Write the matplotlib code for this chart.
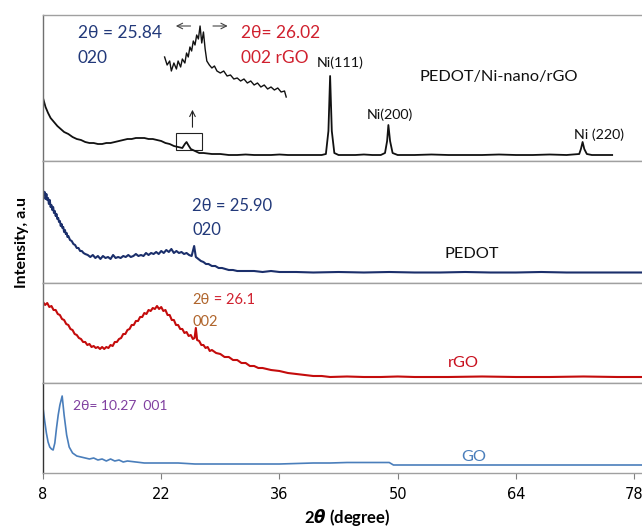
import numpy as np
import matplotlib
matplotlib.use("Agg")
import matplotlib.pyplot as plt
from matplotlib.patches import Rectangle

plt.rcParams['font.family'] = ['Lato', 'DejaVu Sans']
plt.rcParams['mathtext.fontset'] = 'custom'
plt.rcParams['mathtext.it'] = 'DejaVu Sans:bold:italic'
plt.rcParams['mathtext.rm'] = 'DejaVu Sans:bold'

# ---- data (2theta in degree, intensity in arbitrary units per panel) ----
comp_tt = [8.0, 8.3, 8.6, 8.9, 9.3, 9.7, 10.1, 10.5, 11.0, 11.5, 12.0, 12.5, 13.0, 13.5,
           14.0, 14.5, 15.0, 15.5, 16.0, 16.5, 17.0, 17.5, 18.0, 18.5, 19.0, 19.5, 20.0,
           20.5, 21.0, 21.5, 22.0, 22.5, 23.0, 23.5, 24.0, 24.5, 24.8, 25.0, 25.2, 25.5,
           26.0, 26.5, 27.0, 28.0, 29.0, 30.0, 31.0, 32.0, 33.0, 34.0, 35.0, 36.0, 37.0,
           38.0, 39.0, 40.0, 41.0, 41.5, 41.8, 42.0, 42.2, 42.5, 43.0, 44.0, 45.0, 46.0,
           47.0, 48.0, 48.5, 48.75, 48.9, 49.1, 49.4, 50.0, 52.0, 54.0, 56.0, 58.0, 60.0,
           62.0, 64.0, 66.0, 68.0, 70.0, 71.5, 71.7, 71.9, 72.1, 72.4, 73.0, 74.0, 75.0, 75.4]
comp_int = [63, 54, 48, 43, 39, 35, 32, 29, 27, 24, 22, 21, 19, 18,
            18, 17, 17, 18, 18, 19, 20, 21, 22, 22, 23, 23, 23,
            22, 22, 21, 20, 18, 17, 15, 14, 13, 17, 19, 16, 12,
            10, 8, 8, 7, 7, 6, 6, 6.5, 6, 6, 6, 6.5, 6,
            6, 6, 6, 6, 7, 30, 85, 30, 8, 6, 6, 6, 6.5,
            6, 6, 8, 20, 36, 20, 8, 6, 6, 6.5, 6, 6, 6,
            6.5, 6, 6, 6.5, 6, 7, 12, 19, 12, 7, 6, 6, 6, 6]

inset_tt = [22.4, 22.7, 23.0, 23.2, 23.5, 23.8, 24.0, 24.3, 24.5, 24.8, 25.0, 25.2, 25.4,
            25.6, 25.8, 26.0, 26.2, 26.4, 26.6, 26.8, 27.0, 27.2, 27.4, 27.7, 28.0, 28.3,
            28.6, 29.0, 29.4, 29.8, 30.2, 30.6, 31.0, 31.4, 31.8, 32.2, 32.6, 33.0, 33.4,
            33.8, 34.2, 34.6, 35.0, 35.4, 35.8, 36.2, 36.6, 36.8]
inset_int = [104, 96, 100, 90, 98, 92, 100, 94, 102, 98, 108, 104, 114,
             110, 120, 116, 126, 122, 135, 118, 129, 112, 100, 96, 93, 95,
             90, 88, 90, 85, 86, 82, 83, 80, 82, 78, 80, 76, 78,
             74, 76, 72, 74, 71, 73, 69, 70, 64]

pedot_tt = [8.0, 8.1, 8.2, 8.3, 8.4, 8.5, 8.6, 8.7, 8.8, 8.9, 9.0, 9.1, 9.2, 9.3, 9.4,
            9.5, 9.6, 9.7, 9.8, 9.9, 10.0, 10.1, 10.2, 10.3, 10.4, 10.5, 10.6, 10.7, 10.8,
            10.9, 11.0, 11.2, 11.4, 11.6, 11.8, 12.0, 12.2, 12.4, 12.6, 12.8, 13.0, 13.3,
            13.6, 13.9, 14.2, 14.5, 14.8, 15.1, 15.4, 15.7, 16.0, 16.3, 16.6, 16.9, 17.2,
            17.5, 17.8, 18.1, 18.4, 18.7, 19.0, 19.3, 19.6, 19.9, 20.2, 20.5, 20.8, 21.1,
            21.4, 21.7, 22.0, 22.3, 22.6, 22.9, 23.2, 23.5, 23.8, 24.1, 24.4, 24.7, 25.0,
            25.3, 25.6, 25.9, 26.1, 26.4, 26.7, 27.0, 27.3, 27.6, 28.0, 28.4, 28.8, 29.2,
            29.6, 30.0, 30.5, 31.0, 32.0, 33.0, 34.0, 35.0, 36.0, 38.0, 40.0, 43.0, 46.0,
            49.0, 52.0, 55.0, 58.0, 61.0, 64.0, 67.0, 70.0, 73.0, 76.0, 80.0]
pedot_int = [93, 88, 91, 84, 89, 83, 85, 79, 83, 76, 78, 73, 76, 70, 72,
             67, 69, 64, 65, 61, 62, 57, 59, 55, 56, 51, 53, 49, 50,
             46, 47, 43, 42, 39, 38, 35, 35, 32, 32, 30, 29, 28,
             26, 28, 25, 27, 24, 27, 25, 26, 24, 28, 25, 26, 25,
             27, 26, 28, 26, 27, 29, 27, 28, 27, 30, 28, 30, 29,
             31, 29, 32, 30, 33, 31, 34, 30, 32, 30, 31, 29, 30,
             28, 27, 37, 26, 24, 22, 21, 19, 19, 17, 17, 15, 15,
             14, 13, 13, 12, 12, 12, 11, 12, 11, 11, 10.5, 11, 10.5,
             11, 10.5, 10.5, 11, 10.5, 10.5, 11, 10.5, 10.5, 10.5, 10.5]

rgo_tt = [8.0, 8.25, 8.5, 8.75, 9.0, 9.25, 9.5, 9.75, 10.0, 10.25, 10.5, 10.75, 11.0,
          11.25, 11.5, 11.75, 12.0, 12.25, 12.5, 12.75, 13.0, 13.25, 13.5, 13.75, 14.0,
          14.25, 14.5, 14.75, 15.0, 15.25, 15.5, 15.75, 16.0, 16.25, 16.5, 16.75, 17.0,
          17.25, 17.5, 17.75, 18.0, 18.25, 18.5, 18.75, 19.0, 19.25, 19.5, 19.75, 20.0,
          20.25, 20.5, 20.75, 21.0, 21.25, 21.5, 21.75, 22.0, 22.25, 22.5, 22.75, 23.0,
          23.25, 23.5, 23.75, 24.0, 24.25, 24.5, 24.75, 25.0, 25.25, 25.5, 25.75, 25.95,
          26.1, 26.25, 26.5, 26.75, 27.0, 27.25, 27.5, 27.75, 28.0, 28.5, 29.0, 29.5, 30.0,
          30.5, 31.0, 31.5, 32.0, 32.5, 33.0, 33.5, 34.0, 35.0, 36.0, 37.0, 38.0, 39.0,
          40.0, 41.0, 42.0, 44.0, 46.0, 48.0, 50.0, 52.0, 56.0, 60.0, 64.0, 68.0, 72.0,
          76.0, 80.0]
rgo_int = [81, 78, 80, 76, 77, 73, 73, 69, 68, 64, 63, 59, 58,
           54, 53, 49, 48, 45, 44, 41, 41, 38, 39, 36, 37,
           35, 36, 34, 36, 34, 36, 35, 38, 37, 41, 41, 44,
           45, 49, 49, 53, 54, 58, 58, 62, 62, 66, 66, 70,
           69, 73, 72, 75, 74, 77, 74, 76, 72, 73, 68, 68,
           63, 63, 58, 58, 54, 54, 50, 51, 47, 48, 44, 45,
           55, 43, 42, 38, 38, 35, 36, 32, 33, 30, 29, 26, 26,
           23, 23, 20, 20, 17, 17, 15, 15, 13, 12, 10, 9, 8,
           7, 7, 6, 6.5, 6, 6, 6.5, 6, 6, 6.5, 6, 6, 6.5,
           6, 6]

go_tt = [8.0, 8.2, 8.4, 8.6, 8.8, 9.0, 9.2, 9.4, 9.6, 9.8, 10.0, 10.27, 10.5, 10.8, 11.1,
         11.5, 12.0, 12.5, 13.0, 13.5, 14.0, 14.5, 15.0, 15.5, 16.0, 16.5, 17.0, 17.5,
         18.0, 19.0, 20.0, 21.0, 22.0, 24.0, 26.0, 28.0, 30.0, 32.0, 34.0, 36.0, 38.0,
         40.0, 42.0, 44.0, 46.0, 48.0, 49.0, 49.5, 52.0, 56.0, 60.0, 64.0, 68.0, 72.0,
         76.0, 80.0]
go_int = [65, 52, 40, 31, 26, 24, 23, 30, 45, 58, 68, 77, 58, 38, 26,
          20, 17, 16, 15, 14, 15, 13, 14, 12, 14, 12, 13, 11,
          12, 11, 10, 10, 10, 10, 9, 9, 9, 9, 9, 9, 9.5,
          10, 10, 10.5, 10.5, 10.5, 10.5, 8, 8, 8, 8, 8, 8, 8,
          8, 8]

x_ticks = [8, 22, 36, 50, 64, 78]

navy = '#22397a'
red_txt = '#d0202e'
brown = '#b0652c'

fig = plt.figure(figsize=(6.42, 5.27), dpi=100)

left, width = 43 / 642, 608 / 642
# panel extents in pixels (top, bottom)
panels = [(15, 161), (161, 283), (283, 383), (383, 473)]
axes = []
for top, bot in panels:
    ax = fig.add_axes([left, (527 - bot) / 527, width, (bot - top) / 527])
    ax.set_xlim(8, 80)
    ax.set_ylim(0, bot - top)
    ax.set_yticks([])
    ax.set_xticks([])
    for s in ['top', 'bottom', 'left']:
        ax.spines[s].set_color('#a0a0a0')
        ax.spines[s].set_linewidth(1.0)
    ax.spines['right'].set_visible(False)
    ax.spines['left'].set_color('#707070')
    axes.append(ax)

ax1, ax2, ax3, ax4 = axes

# top panel: composite
ax1.plot(comp_tt, comp_int, color='#111111', lw=1.3)
ax1.plot(inset_tt, inset_int, color='#111111', lw=1.0)
ax1.add_patch(Rectangle((23.7, 11), 3.1, 17, fill=False, ec='#222222', lw=0.8))
ax1.annotate('', xy=(25.7, 54), xytext=(25.7, 31),
             arrowprops=dict(arrowstyle='->', color='#222222', lw=0.8))
ax1.annotate('', xy=(23.4, 135), xytext=(25.8, 135),
             arrowprops=dict(arrowstyle='->', color='#444444', lw=0.8))
ax1.annotate('', xy=(30.2, 135), xytext=(27.8, 135),
             arrowprops=dict(arrowstyle='->', color='#444444', lw=0.8))
ax1.text(12.1, 128, '2θ = 25.84', color=navy, fontsize=12.5, va='center')
ax1.text(12.1, 103, '020', color=navy, fontsize=12.5, va='center')
ax1.text(31.4, 128, '2θ= 26.02', color=red_txt, fontsize=12.5, va='center')
ax1.text(31.4, 103, '002 rGO', color=red_txt, fontsize=12.5, va='center')
ax1.text(40.4, 98, 'Ni(111)', color='#111111', fontsize=10.3, va='center')
ax1.text(46.3, 46, 'Ni(200)', color='#111111', fontsize=10.3, va='center')
ax1.text(70.9, 26, 'Ni (220)', color='#111111', fontsize=10.3, va='center')
ax1.text(52.6, 84, 'PEDOT/Ni-nano/rGO', color='#111111', fontsize=11.8, va='center')

# PEDOT
ax2.plot(pedot_tt, pedot_int, color='#1b2f6b', lw=1.5)
ax2.text(25.7, 77, '2θ = 25.90', color=navy, fontsize=12, va='center')
ax2.text(25.7, 53, '020', color=navy, fontsize=12, va='center')
ax2.text(55.6, 29, 'PEDOT', color='#111111', fontsize=11.8, va='center')

# rGO
ax3.plot(rgo_tt, rgo_int, color='#c40c0c', lw=1.5)
t1 = ax3.text(25.7, 83, '2θ', color=brown, fontsize=10.5, va='center')
ax3.annotate(' = 26.1', xy=(1, 0.5), xycoords=t1, va='center',
             color=red_txt, fontsize=10.5)
ax3.text(25.7, 61, '002', color=brown, fontsize=10.5, va='center')
ax3.text(56.0, 20, 'rGO', color='#c8101e', fontsize=11.8, va='center')

# GO
ax4.plot(go_tt, go_int, color='#4a7ebb', lw=1.2)
ax4.text(11.6, 67, '2θ= 10.27  001', color='#8040a0', fontsize=10, va='center')
ax4.text(57.5, 16, 'GO', color='#4a7ebb', fontsize=11.8, va='center')
ax4.spines['left'].set_color('#333333')

ax4.set_xticks(x_ticks)
ax4.set_xticklabels([str(t) for t in x_ticks], family=['Liberation Sans Narrow', 'DejaVu Sans'],
                    fontsize=10.5)
ax4.tick_params(axis='x', direction='out', length=4, width=0.8, color='#808080', pad=6)
ax4.set_xlabel(r'2$\theta$ (degree)', fontsize=12, fontweight='bold', labelpad=4)

fig.text(22 / 642, 1 - 242 / 527, 'Intensity, a.u', rotation=90, fontsize=11.5,
         fontweight='bold', ha='center', va='center')

fig.savefig('out.png', dpi=100)
